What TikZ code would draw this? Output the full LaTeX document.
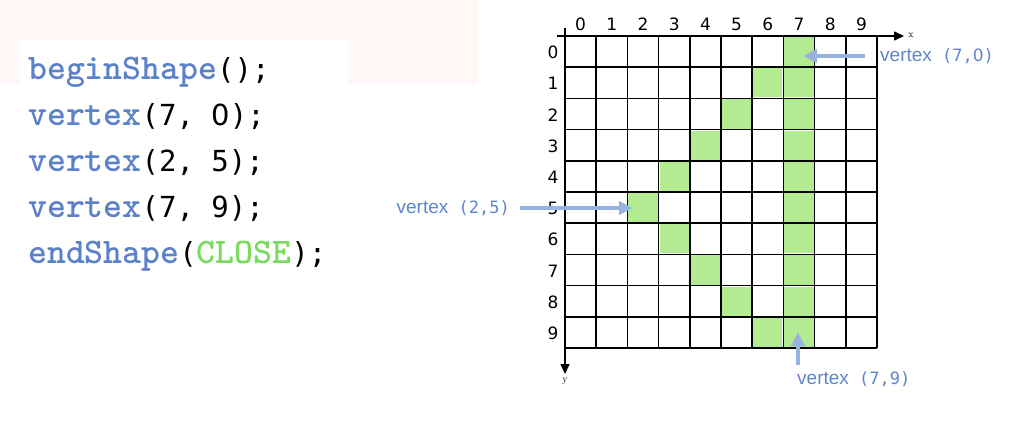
\documentclass[tikz,border=0pt]{standalone}
\usepackage{fontspec}
\usetikzlibrary{arrows.meta}
\newfontfamily\argfont{DejaVu Sans Mono}
\newfontfamily\numfont{DejaVu Sans}
\newfontfamily\labfont{Liberation Sans}
\definecolor{bgpink}{RGB}{255,248,246}
\definecolor{codeblue}{RGB}{91,129,200}
\definecolor{closegreen}{RGB}{121,219,95}
\definecolor{cellgreen}{RGB}{179,235,146}
\definecolor{labelblue}{RGB}{92,134,207}
\definecolor{arrowblue}{RGB}{152,179,223}
\newcommand{\kw}[2][codeblue]{{\fontsize{36}{46}\selectfont\ttfamily\bfseries\color{#1}#2}}
\newcommand{\args}[1]{{\fontsize{29}{46}\selectfont\argfont #1}}
\newcommand{\vtag}[1]{{\fontsize{17}{20}\selectfont\argfont\ #1}}
\newcommand{\zero}{{\numfont 0}}
\tikzstyle{codeline} = [anchor=base west, inner sep=0pt]
\tikzstyle{num} = [font=\fontsize{17}{20}\selectfont\numfont, inner sep=0pt]
\tikzstyle{gridline} = [line width=1.5pt, draw=black]
\tikzstyle{axis} = [line width=1.5pt, -{Triangle[length=10pt,width=9pt]}]
\tikzstyle{pointer} = [line width=4pt, draw=arrowblue, -{Triangle[length=14pt,width=13pt,fill=arrowblue]}]
\tikzstyle{vlabel} = [font=\fontsize{19}{22}\selectfont\labfont, text=labelblue, inner sep=0pt]
\tikzstyle{axlabel} = [font=\fontsize{10}{12}\selectfont, inner sep=0pt]

\begin{document}
\begin{tikzpicture}[x=1pt, y=-1pt]

\useasboundingbox (0,0) rectangle (1024,428);
\fill[white] (0,0) rectangle (1024,428);
\fill[bgpink] (0,0) rectangle (478,85);
\fill[white] (20,40) rectangle (348,85);

% Code
\node (line1) [codeline] at (28,79) {\kw{beginShape}\args{();}};
\node (line2) [codeline] at (28,125) {\kw{vertex}\args{(7, \zero);}};
\node (line3) [codeline] at (28,171) {\kw{vertex}\args{(2, 5);}};
\node (line4) [codeline] at (28,217) {\kw{vertex}\args{(7, 9);}};
\node (line5) [codeline] at (28,263) {\kw{endShape}\args{(}\kw[closegreen]{CLOSE}\args{);}};

% Cells
\foreach \r in {0,...,9}
  \fill[cellgreen] (565+7*31.2+1, 36+\r*31.2+1) rectangle ++(29.2,29.2);
\foreach \c/\r in {6/1, 5/2, 4/3, 3/4, 2/5, 3/6, 4/7, 5/8, 6/9}
  \fill[cellgreen] (565+\c*31.2+1, 36+\r*31.2+1) rectangle ++(29.2,29.2);

% Grid
\foreach \i in {0,...,10} {
  \draw[gridline] (565+\i*31.2, 36) -- (565+\i*31.2, 348);
  \draw[gridline] (565, 36+\i*31.2) -- (877, 36+\i*31.2);
}

% Axes
\coordinate (xstart) at (557,36);
\coordinate (xend) at (904,36);
\coordinate (ystart) at (565,28);
\coordinate (yend) at (565,374);
\draw[axis] (xstart) -- (xend);
\draw[axis] (ystart) -- (yend);
\node (xlab) [axlabel] at (911,35) {x};
\node (ylab) [axlabel] at (565,381) {y};

\foreach \i in {0,...,9} {
  \node (col\i) [num] at (580.6+\i*31.2, 24) {\i};
  \node (row\i) [num] at (553, 52.6+\i*31.2) {\i};
}

% Labels
\node (lab70) [vlabel, anchor=west] at (880,56) {vertex\vtag{(7,\zero)}};
\node (lab25) [vlabel, anchor=east] at (510,208) {vertex\vtag{(2,5)}};
\node (lab79) [vlabel, anchor=west] at (797,379) {vertex\vtag{(7,9)}};

\coordinate (v70) at (803,56);
\coordinate (v25) at (633,208);
\coordinate (v79) at (798,332);

% Arrows
\draw[pointer] ([xshift=-15pt]lab70.west) -- (v70);
\draw[pointer] ([xshift=10pt]lab25.east) -- (v25);
\draw[pointer] (lab79.north west -| v79) ++(0,-6) -- (v79);

\end{tikzpicture}
\end{document}
